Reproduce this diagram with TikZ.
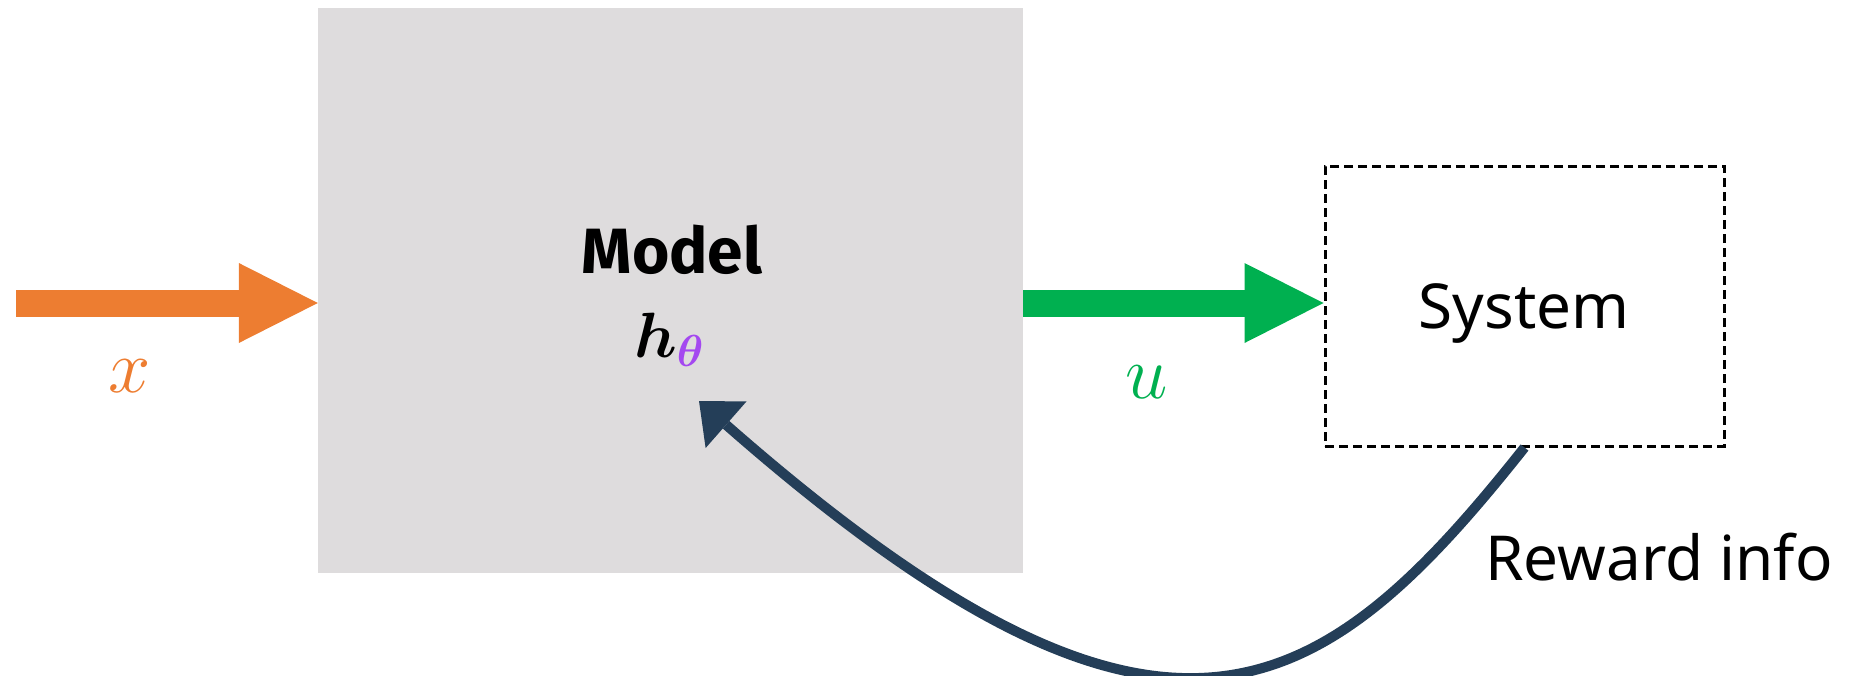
\RequirePackage{fix-cm}
\documentclass[tikz,border=0pt]{standalone}
\usepackage{amsmath}
\usepackage{fontspec}
\setmainfont{Noto Sans}
\newfontfamily\modelfont{Fira Sans}
\usetikzlibrary{arrows.meta}
\definecolor{boxgray}{RGB}{222,220,221}
\definecolor{inorange}{RGB}{237,125,49}
\definecolor{outgreen}{RGB}{0,176,80}
\definecolor{fbblue}{RGB}{36,62,88}
\definecolor{thetapurple}{RGB}{164,72,240}
\tikzset{
  modelbox/.style={fill=boxgray, draw=none, minimum width=705pt, minimum height=565pt, inner sep=0pt},
  sysbox/.style={draw=black, dash pattern=on 9pt off 5pt, line width=3pt, minimum width=399pt, minimum height=280pt, inner sep=0pt},
  fatarrow/.style={line width=27pt, -{Triangle[length=79pt,width=80pt,line width=0pt]}},
  fbarrow/.style={draw=fbblue, line width=10pt, -{Triangle[length=36pt,width=62pt,line width=0pt]}},
  lbl/.style={inner sep=0pt, anchor=base},
}
\begin{document}
\begin{tikzpicture}[x=1pt,y=-1pt]
\useasboundingbox (0,0) rectangle (1855,675);
\node[modelbox] (model) at (670.5,290.5) {};
\node[sysbox] (sys) at (1524.5,306) {};
\coordinate (xin) at (16,303);
\coordinate (fbtip) at (699,401);
% texts
\node[lbl] (modeltxt) at (672,273) {\fontsize{64}{72}\selectfont\modelfont\bfseries Model};
\node[lbl, anchor=base west] (htheta) at (634,357) {\fontsize{64}{74}\selectfont$\boldsymbol{h}_{\textcolor{thetapurple}{\boldsymbol{\theta}}}$};
\node[lbl] (systxt) at (1524,328) {\fontsize{62}{70}\selectfont System};
\node[lbl, anchor=base west] (reward) at (1485,580) {\fontsize{62}{70}\selectfont Reward info};
\node[lbl, text=inorange] (xlbl) at (130,392) {\fontsize{76}{86}\selectfont$x$};
\node[lbl, text=outgreen] (ulbl) at (1147,398) {\fontsize{76}{86}\selectfont$u$};
% connectors
\draw[fatarrow, draw=inorange] (xin) -- (xin -| model.west);
\draw[fatarrow, draw=outgreen] (xin -| model.east) -- (xin -| sys.west);
\draw[fbarrow] (sys.south) .. controls (1320,705) and (1165,810) .. (fbtip);
\end{tikzpicture}
\end{document}
